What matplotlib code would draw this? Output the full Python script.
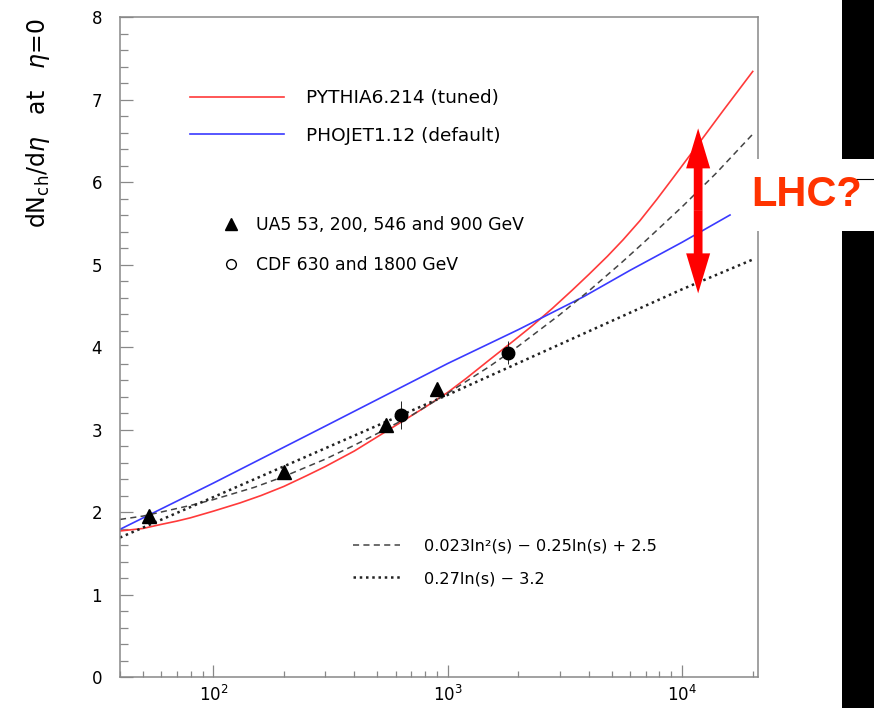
import matplotlib
matplotlib.use("Agg")
import matplotlib.pyplot as plt
from matplotlib.lines import Line2D
from matplotlib.patches import Rectangle
from matplotlib.ticker import LogLocator, MultipleLocator, NullFormatter

# sqrt(s) in GeV vs dNch/deta at eta=0
pythia_x = [40, 50, 60, 70, 80, 100, 130, 160, 200, 250, 300, 400, 500, 650, 800, 1000,
            1200, 1500, 1900, 2300, 2800, 3400, 4000, 4800, 5600, 6600, 7800, 9200, 10700,
            12300, 15000, 20000]
pythia_y = [1.77, 1.80, 1.85, 1.89, 1.93, 2.01, 2.11, 2.20, 2.31, 2.44, 2.55, 2.74, 2.91,
            3.11, 3.27, 3.45, 3.62, 3.84, 4.07, 4.26, 4.47, 4.69, 4.88, 5.10, 5.30, 5.53,
            5.79, 6.06, 6.31, 6.54, 6.87, 7.34]

phojet_x = [40, 100, 300, 1000, 2000, 3800, 6000, 10000, 16000]
phojet_y = [1.79, 2.35, 3.04, 3.80, 4.21, 4.61, 4.93, 5.27, 5.60]

quad_x = [40, 50, 60, 80, 100, 150, 200, 300, 400, 500, 700, 1000, 1500, 2000, 3000,
          4000, 5500, 7000, 10000, 14000, 20000]
quad_y = [1.91, 1.95, 2.00, 2.08, 2.15, 2.30, 2.43, 2.64, 2.81, 2.95, 3.17, 3.44, 3.76,
          4.01, 4.39, 4.68, 5.02, 5.29, 5.70, 6.11, 6.58]

lin_x = [40, 100, 1000, 10000, 20000]
lin_y = [1.69, 2.18, 3.42, 4.70, 5.06]

ua5_x = [53, 200, 546, 900]
ua5_y = [1.95, 2.48, 3.05, 3.49]
ua5_err = [0.05, 0.05, 0.05, 0.05]

cdf_x = [630, 1800]
cdf_y = [3.18, 3.93]
cdf_err = [0.17, 0.14]

fig = plt.figure(figsize=(8.74, 7.08), dpi=100)
ax = fig.add_axes([120 / 874, 1 - 677 / 708, 637.7 / 874, 660 / 708])

red = "#ff3a3a"
blue = "#3a3aff"
ax.plot(pythia_x, pythia_y, color=red, lw=1.2)
ax.plot(phojet_x, phojet_y, color=blue, lw=1.2)
ax.plot(quad_x, quad_y, color="#444444", lw=1.1, linestyle=(0, (4, 2.8)))
ax.plot(lin_x, lin_y, color="#222222", lw=1.8, linestyle=(0, (1, 1.5)))

ax.errorbar(ua5_x, ua5_y, yerr=ua5_err, fmt="^", color="black", ms=10, elinewidth=0.6, capsize=0, zorder=5)
ax.errorbar(cdf_x, cdf_y, yerr=cdf_err, fmt="o", color="black", ms=9, elinewidth=0.6, capsize=0, zorder=5)

ax.set_xscale("log")
ax.set_xlim(40, 21000)
ax.set_ylim(0, 8)
ax.yaxis.set_major_locator(MultipleLocator(1))
ax.yaxis.set_minor_locator(MultipleLocator(0.2))
ax.xaxis.set_major_locator(LogLocator(base=10))
ax.xaxis.set_minor_locator(LogLocator(base=10, subs=range(2, 10)))
ax.xaxis.set_minor_formatter(NullFormatter())

for s in ax.spines.values():
    s.set_color("#888888")
    s.set_linewidth(1.1)
ax.tick_params(which="both", direction="in", color="#888888", width=0.9, labelsize=12)
ax.tick_params(axis="y", which="major", length=9.4, pad=13)
ax.tick_params(axis="y", which="minor", length=5.5)
ax.tick_params(axis="x", which="major", length=8.6, pad=6)
ax.tick_params(axis="x", which="minor", length=4.1)

ax.text(-0.1286, 0.998, r"dN$_{\rm ch}$/d$\eta$   at   $\eta$=0", rotation=90,
        ha="center", va="top", fontsize=17, transform=ax.transAxes)

# legends
h1 = [Line2D([], [], color=red, lw=1.2), Line2D([], [], color=blue, lw=1.2)]
leg1 = ax.legend(h1, ["PYTHIA6.214 (tuned)", "PHOJET1.12 (default)"], loc="center left",
                 bbox_to_anchor=(0.1098, 0.8485), frameon=False, fontsize=13.3,
                 handlelength=5.1, handletextpad=1.2, labelspacing=1.05, borderpad=0, borderaxespad=0)
ax.add_artist(leg1)

h2 = [Line2D([], [], marker="^", ls="none", color="black", ms=8),
      Line2D([], [], marker="o", ls="none", mfc="white", mec="black", ms=7)]
leg2 = ax.legend(h2, ["UA5 53, 200, 546 and 900 GeV", "CDF 630 and 1800 GeV"], loc="center left",
                 bbox_to_anchor=(0.16, 0.6545), frameon=False, fontsize=12.4,
                 handlelength=1.0, handletextpad=1.0, labelspacing=1.25, borderpad=0, borderaxespad=0)
ax.add_artist(leg2)

h3 = [Line2D([], [], color="#444444", lw=1.1, linestyle=(0, (4, 2.8))),
      Line2D([], [], color="#222222", lw=1.8, linestyle=(0, (1, 1.5)))]
ax.legend(h3, ["0.023ln\u00b2(s) \u2212 0.25ln(s) + 2.5", "0.27ln(s) \u2212 3.2"], loc="center left",
          bbox_to_anchor=(0.3654, 0.174), frameon=False, fontsize=11.6,
          handlelength=2.9, handletextpad=1.5, labelspacing=1.1, borderpad=0, borderaxespad=0)

# LHC double arrow
for y_end in (6.65, 4.65):
    ax.annotate("", xy=(11700, y_end), xytext=(11700, 5.65),
                arrowprops=dict(facecolor="#ff0000", edgecolor="none", width=6.3,
                                headwidth=17.3, headlength=28.8, shrink=0))

# black side bar and white box with the question
fig.add_artist(Rectangle((842 / 874, 0), 32 / 874, 1, transform=fig.transFigure,
                         facecolor="black", edgecolor="none", zorder=3))
fig.add_artist(Rectangle((748 / 874, 1 - 231 / 708), 126 / 874, 72 / 708, transform=fig.transFigure,
                         facecolor="white", edgecolor="none", zorder=4))
fig.add_artist(Line2D([842 / 874, 1], [1 - 179 / 708, 1 - 179 / 708], transform=fig.transFigure,
                      color="black", lw=0.8, zorder=4))
fig.text(807 / 874, 1 - 195 / 708, "LHC?", color="#ff3300", fontsize=30, fontweight="bold",
         family="Liberation Sans", ha="center", va="center", zorder=5)

fig.savefig("out.png", dpi=100)
